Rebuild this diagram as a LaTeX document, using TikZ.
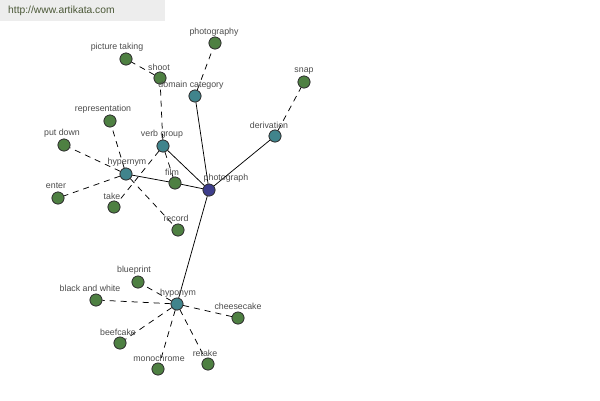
\documentclass[tikz,border=0pt]{standalone}
\usepackage{fontspec}
\setmainfont{Liberation Sans}
\begin{document}
\begin{tikzpicture}[x=1pt,y=-1pt,
  dot/.style={circle,draw=black!80,line width=0.7pt,minimum size=12pt,inner sep=0pt},
  leaf/.style={dot,fill=leafc},
  rel/.style={dot,fill=relc},
  root/.style={dot,fill=rootc},
  lbl/.style={font=\fontsize{8.8}{9}\selectfont,text=black!70,inner sep=0pt},
  solidedge/.style={draw=black,line width=0.75pt},
  dashedge/.style={draw=black,line width=0.75pt,dash pattern=on 6pt off 5pt}]
\definecolor{leafc}{RGB}{78,128,66}
\definecolor{relc}{RGB}{64,132,140}
\definecolor{rootc}{RGB}{62,62,140}
\path[use as bounding box,fill=white] (0,0) rectangle (600,400);
\fill[black!7] (0,0) rectangle (165,21);
\node[anchor=west,font=\fontsize{10.3}{11}\selectfont,text={rgb,255:red,75;green,88;blue,55},inner sep=0pt] (wm) at (8,11) {http://www.artikata.com};

% nodes
\node[root] (photograph) at (209,190) {};
\node[rel] (domain) at (195,96) {};
\node[rel] (derivation) at (275,136) {};
\node[rel] (verbgroup) at (163,146) {};
\node[rel] (hypernym) at (126,174) {};
\node[rel] (hyponym) at (177,304) {};
\node[leaf] (photography) at (215,43) {};
\node[leaf] (shoot) at (160,78) {};
\node[leaf] (picturetaking) at (126,59) {};
\node[leaf] (snap) at (304,82) {};
\node[leaf] (representation) at (110,121) {};
\node[leaf] (putdown) at (64,145) {};
\node[leaf] (enter) at (58,198) {};
\node[leaf] (take) at (114,207) {};
\node[leaf] (film) at (175,183) {};
\node[leaf] (record) at (178,230) {};
\node[leaf] (blueprint) at (138,282) {};
\node[leaf] (blackwhite) at (96,300) {};
\node[leaf] (cheesecake) at (238,318) {};
\node[leaf] (beefcake) at (120,343) {};
\node[leaf] (monochrome) at (158,369) {};
\node[leaf] (retake) at (208,364) {};

% edges
\path[solidedge] (photograph) -- (domain);
\path[solidedge] (photograph) -- (derivation);
\path[solidedge] (photograph) -- (verbgroup);
\path[solidedge] (photograph) -- (film);
\path[solidedge] (film) -- (hypernym);
\path[solidedge] (photograph) -- (hyponym);
\path[dashedge] (domain) -- (photography);
\path[dashedge] (derivation) -- (snap);
\path[dashedge] (verbgroup) -- (shoot);
\path[dashedge] (shoot) -- (picturetaking);
\path[dashedge] (verbgroup) -- (film);
\path[dashedge] (verbgroup) -- (take);
\path[dashedge] (hypernym) -- (representation);
\path[dashedge] (hypernym) -- (putdown);
\path[dashedge] (hypernym) -- (enter);
\path[dashedge] (hypernym) -- (record);
\path[dashedge] (hyponym) -- (blueprint);
\path[dashedge] (hyponym) -- (blackwhite);
\path[dashedge] (hyponym) -- (cheesecake);
\path[dashedge] (hyponym) -- (beefcake);
\path[dashedge] (hyponym) -- (monochrome);
\path[dashedge] (hyponym) -- (retake);

% redraw nodes on top of the connectors
\foreach \n/\s in {photograph/root,domain/rel,derivation/rel,verbgroup/rel,hypernym/rel,hyponym/rel}{
  \node[\s] at (\n) {};
}
\foreach \n in {photography,shoot,picturetaking,snap,representation,putdown,enter,take,film,record,blueprint,blackwhite,cheesecake,beefcake,monochrome,retake}{
  \node[leaf] at (\n) {};
}

% labels
\node[lbl] (l-photography) at (214,32) {photography};
\node[lbl] (l-picturetaking) at (117,47) {picture taking};
\node[lbl] (l-shoot) at (159,67) {shoot};
\node[lbl] (l-domain) at (191,85) {domain category};
\node[lbl] (l-snap) at (304,71) {snap};
\node[lbl] (l-representation) at (103,109) {representation};
\node[lbl] (l-derivation) at (269,125) {derivation};
\node[lbl] (l-verbgroup) at (162,134) {verb group};
\node[lbl] (l-putdown) at (62,133) {put down};
\node[lbl] (l-hypernym) at (127,162) {hypernym};
\node[lbl] (l-film) at (172,172) {film};
\node[lbl] (l-photograph) at (226,178) {photograph};
\node[lbl] (l-enter) at (56,186) {enter};
\node[lbl] (l-take) at (112,196) {take};
\node[lbl] (l-record) at (176,218) {record};
\node[lbl] (l-blueprint) at (134,270) {blueprint};
\node[lbl] (l-blackwhite) at (90,288) {black and white};
\node[lbl] (l-hyponym) at (178,293) {hyponym};
\node[lbl] (l-cheesecake) at (238,306) {cheesecake};
\node[lbl] (l-beefcake) at (118,332) {beefcake};
\node[lbl] (l-monochrome) at (159,358) {monochrome};
\node[lbl] (l-retake) at (205,353) {retake};
\end{tikzpicture}
\end{document}
